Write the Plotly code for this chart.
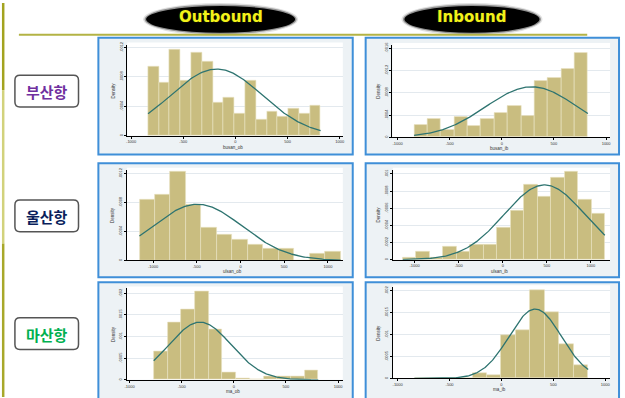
import numpy as np
import plotly.graph_objects as go

W, H = 625, 398

# ---------------------------------------------------------------- data
ports = ["부산항", "울산항", "마산항"]
port_colors = ["#7030a0", "#0a1f5c", "#00b050"]
directions = ["Outbound", "Inbound"]
x_titles = [["busan_ob", "busan_ib"], ["ulsan_ob", "ulsan_ib"], ["ma_ob", "ma_ib"]]

x_tick_vals = [-1000, -500, 0, 500, 1000]
x_tick_text = ["-1000", "-500", "0", "500", "1000"]

# histogram bins: first edge, bin width, density per bin
busan_out_start, busan_out_width = -838, 103.4
busan_out_density = [.00094, .000716, .001172, .000752, .001136, .001012, .000448, .00052,
                     .000296, .000752, .000224, .000332, .00026, .000368, .000296, .000416]
busan_in_start, busan_in_width = -841, 128.2
busan_in_density = [.000232, .000324, .000132, .000368, .000208, .000324, .00044, .000556,
                    .000392, .00102, .001068, .001228, .001512]
ulsan_out_start, ulsan_out_width = -1156, 177.0
ulsan_out_density = [.000844, .000912, .001232, .000768, .000448, .000356, .000288, .00022,
                     .00016, .00016, 0, .000092, .000128]
ulsan_in_start, ulsan_in_width = -1135, 152.9
ulsan_in_density = [.000026, .0001, .000024, .000158, .0001, .000174, .000174, .00037,
                    .00057, .00087, .00073, .000954, .00103, .000704, .000538]
masan_out_start, masan_out_width = -768, 131.5
masan_out_density = [.00065, .00133, .001635, .002055, .00116, .00017, .00003, 0,
                     .00009, .000075, .000075, .00023]
masan_in_start, masan_in_width = -839, 139.5
masan_in_density = [.00002, .00002, .00002, 0, .000115, .000075, .000985, .0011,
                    .002015, .00151, .000775, .0003]

# fitted normal: mean, sd
busan_out_fit = (-181, 440)
busan_in_fit = (286, 440)
ulsan_out_fit = (-492, 514)
ulsan_in_fit = (474, 458)
masan_out_fit = (-324, 299)
masan_in_fit = (325, 252)

# y-axis label values per panel
busan_out_yticks = [0, .0004, .0008, .0012]
busan_in_yticks = [0, .0004, .0008, .0012, .0016]
ulsan_out_yticks = [0, .0004, .0008, .0012]
ulsan_in_yticks = [0, .0002, .0004, .0006, .0008, .001]
masan_out_yticks = [0, .0005, .001, .0015, .002]
masan_in_yticks = [0, .0005, .001, .0015, .002]

series = [
    [(busan_out_start, busan_out_width, busan_out_density, busan_out_fit, busan_out_yticks),
     (busan_in_start, busan_in_width, busan_in_density, busan_in_fit, busan_in_yticks)],
    [(ulsan_out_start, ulsan_out_width, ulsan_out_density, ulsan_out_fit, ulsan_out_yticks),
     (ulsan_in_start, ulsan_in_width, ulsan_in_density, ulsan_in_fit, ulsan_in_yticks)],
    [(masan_out_start, masan_out_width, masan_out_density, masan_out_fit, masan_out_yticks),
     (masan_in_start, masan_in_width, masan_in_density, masan_in_fit, masan_in_yticks)],
]

# ---------------------------------------------------------------- layout geometry (px)
def px(x):
    return x / W


def py(y):
    return 1 - y / H


panel_boxes = [  # outer frame of each graph: x0, x1, y0, y1
    [(97, 353, 35, 153), (366, 621, 35, 153)],
    [(97, 353, 162, 277), (366, 621, 162, 277)],
    [(97, 353, 282, 402), (366, 621, 282, 402)],
]
plot_rects = [  # plot region: x0, x1, ytop, ybottom
    [(126, 343, 42, 134), (393, 612, 42.3, 135.7)],
    [(125.7, 343, 168.3, 260), (393.3, 612, 168.3, 259.3)],
    [(125.7, 343, 288.3, 380.7), (393.3, 612, 287, 379.3)],
]
x_ranges = [
    [(-1038, 1029), (-1048, 1038)],
    [(-1299, 1170), (-1248, 1218)],
    [(-1025, 1045), (-1047, 1046)],
]
y_tops = [[.00124, .00166], [.001255, .00105], [.002114, .002083]]

BAR = "#c9bd80"
BAR_EDGE = "#e9e3c2"
CURVE = "#2e7470"
FRAME = "#3f8fd8"
REGION = "#edf2f5"
GRID = "#e3e9ee"
TICK_FONT = dict(family="Liberation Sans", size=4, color="#333333")
SMALL_FONT = dict(family="Liberation Sans", size=4.5, color="#333333")

fig = go.Figure()
shapes = []
annotations = []
layout_axes = {}

for r in range(3):
    for c in range(2):
        k = r * 2 + c + 1
        xa = "x" if k == 1 else f"x{k}"
        ya = "y" if k == 1 else f"y{k}"
        start, width, dens, (mu, sd), yt = series[r][c]
        dens = np.array(dens)
        centers = start + width * (np.arange(len(dens)) + 0.5)
        fig.add_trace(go.Bar(
            x=centers, y=dens, width=[width] * len(dens),
            marker=dict(color=BAR, line=dict(color=BAR_EDGE, width=0.6)),
            xaxis=xa, yaxis=ya, showlegend=False, hoverinfo="skip"))
        xs = np.linspace(start, start + width * len(dens), 200)
        ys = np.exp(-0.5 * ((xs - mu) / sd) ** 2) / (sd * np.sqrt(2 * np.pi))
        fig.add_trace(go.Scatter(
            x=xs, y=ys, mode="lines", line=dict(color=CURVE, width=1.3),
            xaxis=xa, yaxis=ya, showlegend=False, hoverinfo="skip"))

        bx0, bx1, by0, by1 = panel_boxes[r][c]
        shapes.append(dict(type="rect", xref="paper", yref="paper", layer="below",
                           x0=px(bx0), x1=px(bx1), y0=py(by1), y1=py(by0),
                           fillcolor=REGION, line=dict(color=FRAME, width=2)))
        x0, x1, yt0, yb = plot_rects[r][c]
        shapes.append(dict(type="rect", xref="paper", yref="paper", layer="below",
                           x0=px(x0), x1=px(x1), y0=py(yb), y1=py(yt0 - 2),
                           fillcolor="white", line=dict(width=0)))

        xkey = "xaxis" if k == 1 else f"xaxis{k}"
        ykey = "yaxis" if k == 1 else f"yaxis{k}"
        layout_axes[xkey] = dict(
            domain=[px(x0), px(x1)], anchor=ya, range=list(x_ranges[r][c]),
            showgrid=False, zeroline=False, showline=True, linecolor="black", linewidth=1,
            ticks="outside", ticklen=2, tickwidth=0.8, tickcolor="black",
            tickvals=x_tick_vals, ticktext=x_tick_text, tickfont=TICK_FONT, fixedrange=True)
        layout_axes[ykey] = dict(
            domain=[py(yb), py(yt0)], anchor=xa, range=[0, y_tops[r][c]],
            showgrid=True, gridcolor=GRID, gridwidth=1, zeroline=False,
            showline=True, linecolor="black", linewidth=1,
            ticks="outside", ticklen=2, tickwidth=0.8, tickcolor="black",
            tickvals=yt, ticktext=["0"] + [f"{v:.4f}".lstrip("0").rstrip("0") for v in yt[1:]],
            tickangle=-90, tickfont=TICK_FONT, fixedrange=True)

        annotations.append(dict(text="Density", xref="paper", yref="paper",
                                x=px(x0 - 14), y=py((yt0 + yb) / 2), textangle=-90,
                                xanchor="center", yanchor="middle",
                                showarrow=False, font=SMALL_FONT))
        annotations.append(dict(text=x_titles[r][c], xref="paper", yref="paper",
                                x=px((x0 + x1) / 2 - 2), y=py(yb + 11.5),
                                xanchor="center", yanchor="middle",
                                showarrow=False, font=SMALL_FONT))

# header ovals
for label, (ex0, ex1) in zip(directions, [(145, 295), (405, 541)]):
    shapes.append(dict(type="circle", xref="paper", yref="paper", layer="above",
                       x0=px(ex0 - 3), x1=px(ex1 + 3), y0=py(33), y1=py(0),
                       fillcolor="rgba(0,0,0,0.12)", line=dict(width=0)))
    shapes.append(dict(type="circle", xref="paper", yref="paper", layer="above",
                       x0=px(ex0 - 1.5), x1=px(ex1 + 1.5), y0=py(31.5), y1=py(1.5),
                       fillcolor="rgba(0,0,0,0.35)", line=dict(width=0)))
    shapes.append(dict(type="circle", xref="paper", yref="paper", layer="above",
                       x0=px(ex0), x1=px(ex1), y0=py(30), y1=py(3),
                       fillcolor="black", line=dict(width=0)))
    annotations.append(dict(text=f"<b>{label}</b>", xref="paper", yref="paper",
                            x=px((ex0 + ex1) / 2), y=py(14.5), showarrow=False,
                            xanchor="center", yanchor="middle",
                            font=dict(family="DejaVu Sans", size=15, color="#f2f21a",
                                      shadow="0px 0px 1.5px #3a3a00")))

# rule under the headers and the left edge bar
shapes.append(dict(type="line", xref="paper", yref="paper", x0=px(17), x1=px(589),
                   y0=py(32), y1=py(32), line=dict(color="#b3b345", width=2)))
for (ya0, ya1, col) in [(0, 88, "#a3a31f"), (88, 243, "#d2d27c"), (243, 398, "#a8a82a")]:
    shapes.append(dict(type="line", xref="paper", yref="paper", x0=px(1.2), x1=px(1.2),
                       y0=py(ya0), y1=py(ya1), line=dict(color=col, width=2.5)))


# port label boxes with rounded corners
def rrect_path(x0, y0, x1, y1, rad):
    pts = [
        ("M", [(x0 + rad, y0)]), ("L", [(x1 - rad, y0)]), ("Q", [(x1, y0), (x1, y0 + rad)]),
        ("L", [(x1, y1 - rad)]), ("Q", [(x1, y1), (x1 - rad, y1)]), ("L", [(x0 + rad, y1)]),
        ("Q", [(x0, y1), (x0, y1 - rad)]), ("L", [(x0, y0 + rad)]), ("Q", [(x0, y0), (x0 + rad, y0)]),
    ]
    out = []
    for cmd, ps in pts:
        out.append(cmd + " " + " ".join(f"{px(a):.5f},{py(b):.5f}" for a, b in ps))
    return " ".join(out) + " Z"


for name, col, (ly0, ly1) in zip(ports, port_colors, [(73, 105), (199, 231), (318, 350)]):
    shapes.append(dict(type="path", xref="paper", yref="paper", layer="below",
                       path=rrect_path(13, ly0, 77, ly1, 5),
                       fillcolor="white", line=dict(color="#555555", width=1.5)))
    annotations.append(dict(text=f"<b>{name}</b>", xref="paper", yref="paper",
                            x=px(45), y=py((ly0 + ly1) / 2 + 0.5), showarrow=False,
                            xanchor="center", yanchor="middle",
                            font=dict(family="Noto Sans CJK KR", size=15, color=col)))

fig.update_layout(
    width=W, height=H, margin=dict(l=0, r=0, t=0, b=0),
    paper_bgcolor="white", plot_bgcolor="rgba(0,0,0,0)",
    bargap=0, barmode="overlay", showlegend=False,
    shapes=shapes, annotations=annotations, **layout_axes)

fig.write_html("out.html")
